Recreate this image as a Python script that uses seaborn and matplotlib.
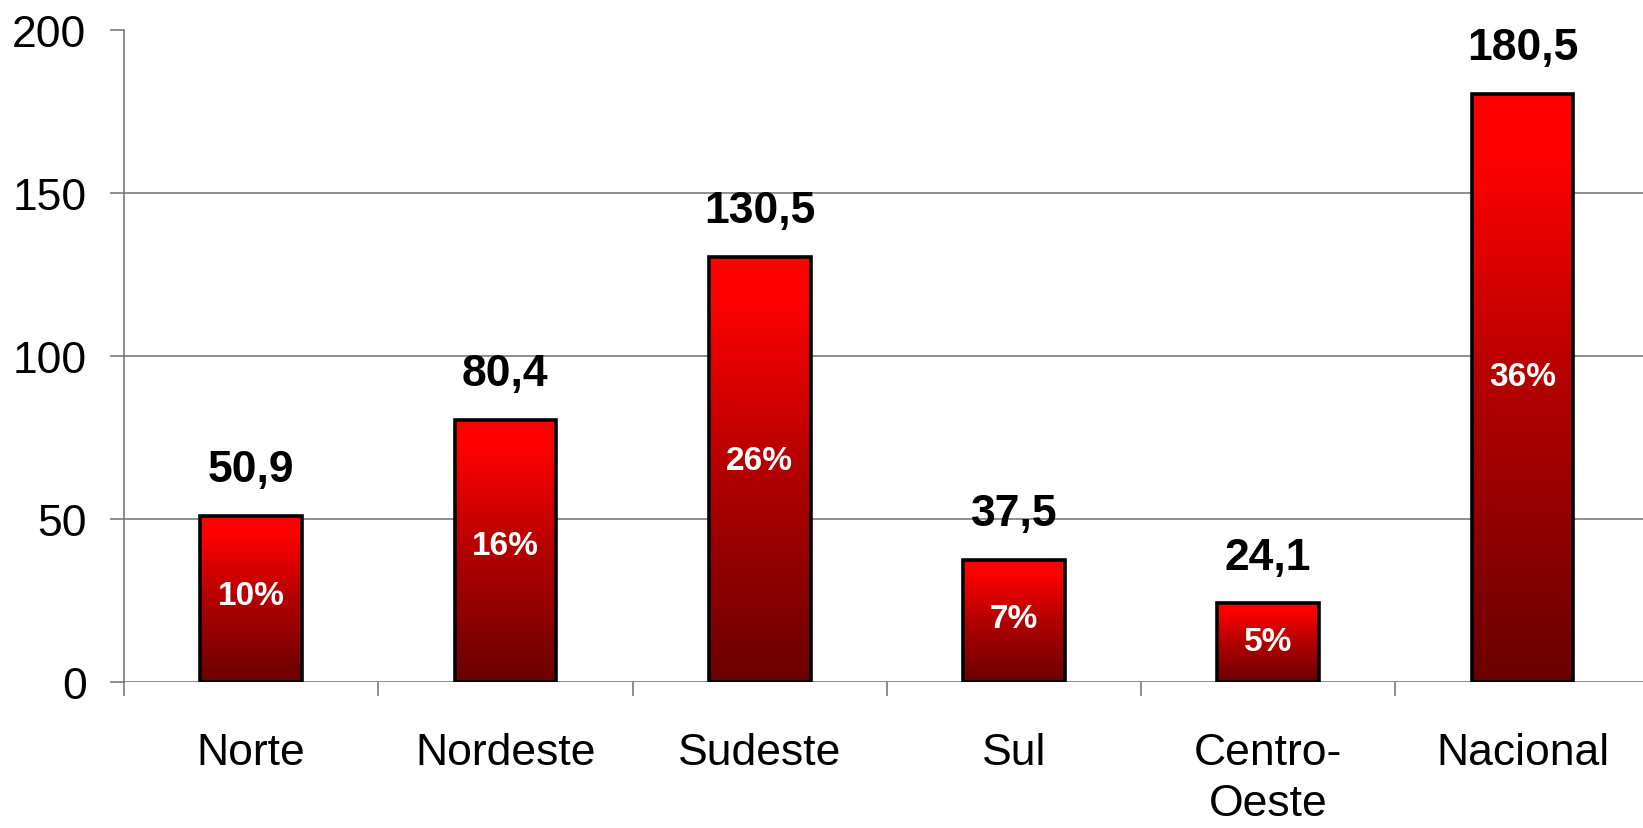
import numpy as np
import pandas as pd
import matplotlib
matplotlib.use("Agg")
import matplotlib.pyplot as plt
from matplotlib.colors import LinearSegmentedColormap
import seaborn as sns

categories = ["Norte", "Nordeste", "Sudeste", "Sul", "Centro-\nOeste", "Nacional"]
values = [50.9, 80.4, 130.5, 37.5, 24.1, 180.5]
value_labels = ["50,9", "80,4", "130,5", "37,5", "24,1", "180,5"]
pct_labels = ["10%", "16%", "26%", "7%", "5%", "36%"]
yticks = [0, 50, 100, 150, 200]

sns.set_theme(style="white")
plt.rcParams['font.family'] = ['Liberation Sans', 'DejaVu Sans']

df = pd.DataFrame({"cat": categories, "val": values})

fig = plt.figure(figsize=(16.43, 8.29), dpi=100)
ax = fig.add_axes([124 / 1643, 1 - 683 / 829, 1 - 124 / 1643 + 0.004, (683 - 31) / 829])

sns.barplot(data=df, x="cat", y="val", hue="cat", palette=["#cc0000"] * len(categories),
            legend=False, width=0.4, ax=ax, saturation=1)

cmap = LinearSegmentedColormap.from_list(
    "redgrad", [(0.0, "#6a0000"), (0.5, "#b30000"), (0.9, "#ff0000"), (1.0, "#ff0000")])
grad = np.linspace(1, 0, 256).reshape(-1, 1)
for p in ax.patches:
    x0, y0 = p.get_xy()
    w, h = p.get_width(), p.get_height()
    im = ax.imshow(grad, extent=[x0, x0 + w, y0, y0 + h], aspect="auto", cmap=cmap,
                   vmin=0, vmax=1, zorder=2, interpolation="bilinear")
    im.set_clip_path(p)
    p.set_facecolor("none")
    p.set_edgecolor("black")
    p.set_linewidth(2.6)
    p.set_zorder(3)

n = len(categories)
ax.set_xlim(-0.5, n - 0.5)
ax.set_ylim(0, 200)

# gridlines (none at the top value)
for t in yticks[:-1]:
    ax.axhline(t, color="#707070", lw=1.1, zorder=1)

for s in ["top", "right", "bottom"]:
    ax.spines[s].set_visible(False)
ax.spines["left"].set_color("#707070")
ax.spines["left"].set_linewidth(1.1)

ax.set_yticks(yticks)
ax.set_yticklabels([str(t) for t in yticks], fontsize=32, color="black")
ax.tick_params(axis="y", length=10, width=1.1, color="#707070", pad=17, left=True)

ax.set_xticks(range(n))
ax.set_xticklabels(categories, fontsize=32, linespacing=1.3, color="black")
ax.tick_params(axis="x", which="major", length=0, pad=36)
ax.set_xticks(np.arange(-0.5, n, 1.0), minor=True)
ax.tick_params(axis="x", which="minor", length=10, width=1.1, color="#707070", bottom=True)
ax.set_xlabel("")
ax.set_ylabel("")

for i, (v, vl, pl) in enumerate(zip(values, value_labels, pct_labels)):
    ax.annotate(vl, xy=(i, v), xytext=(0, 25), textcoords="offset points",
                ha="center", va="baseline", fontsize=32, fontweight="bold", color="black")
    ax.text(i, v * 0.52, pl, ha="center", va="center", fontsize=24,
            fontweight="bold", color="white", zorder=4)

fig.savefig("out.png", dpi=100)
